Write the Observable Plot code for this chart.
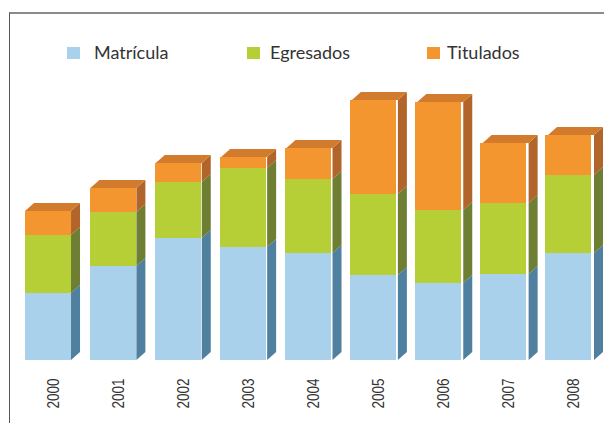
<!DOCTYPE html>
<html>
<head>
<meta charset="utf-8">
<script src="https://cdn.jsdelivr.net/npm/d3@7"></script>
<script src="https://cdn.jsdelivr.net/npm/@observablehq/plot@0.6"></script>
<style>
  html, body { margin: 0; padding: 0; background: #fff; }
  #wrap { position: relative; width: 604px; height: 423px; overflow: hidden; }
  #frame { position: absolute; left: 9px; top: 12px; width: 600px; height: 420px;
           border-top: 2px solid #8a8a8a; border-left: 1.5px solid #555; box-sizing: border-box; pointer-events: none; }
</style>
</head>
<body>
<div id="wrap"><div id="chart"></div><div id="frame"></div></div>
<script>
const years = ["2000", "2001", "2002", "2003", "2004", "2005", "2006", "2007", "2008"];
const matricula = [67, 94, 122, 113, 107, 85, 77, 86, 107];
const egresados = [58, 54, 56, 79, 74, 81, 73, 71, 78];
const titulados = [24, 24, 19, 11, 31, 94, 108, 60, 40];
const seriesNames = ["Matrícula", "Egresados", "Titulados"];
const frontColors = ["#a9d1ec", "#b6cf36", "#f4962f"];
const sideColors = ["#50809f", "#6e7f34", "#b2652a"];
const topColor = "#d27b2c";

const seriesValues = [matricula, egresados, titulados];
const rows = [];
years.forEach((yr, i) => {
  seriesNames.forEach((s, k) => rows.push({year: yr, serie: s, value: seriesValues[k][i]}));
});

const plot = Plot.plot({
  width: 604,
  height: 423,
  marginLeft: 25,
  marginRight: 10,
  marginTop: 60,
  marginBottom: 63,
  x: {domain: years, paddingInner: 0.296, paddingOuter: 0, align: 0, label: null},
  y: {domain: [0, 300], axis: null},
  color: {domain: seriesNames, range: frontColors},
  style: {background: "transparent", fontFamily: "'Liberation Sans', Arial, sans-serif"},
  marks: [
    Plot.barY(rows, {x: "year", y: "value", fill: "serie", order: seriesNames}),
    Plot.axisX({tickSize: 0, tickPadding: 18, dx: 5, tickRotate: -90, fill: "#333", label: null})
  ]
});

const xs = plot.scale("x");
const ys = plot.scale("y");
const xScale = d3.scaleBand().domain(xs.domain).range(xs.range).paddingInner(xs.paddingInner ?? 0.296).paddingOuter(xs.paddingOuter ?? 0).align(xs.align ?? 0);
const yScale = d3.scaleLinear().domain(ys.domain).range(ys.range);
const bw = xScale.bandwidth();
const DX = 9, DY = -8;

const svg = d3.select(plot);
svg.selectAll("text")
  .style("font-size", "16px")
  .style("font-family", "'Liberation Sans', Arial, sans-serif")
  .attr("textLength", 30)
  .attr("lengthAdjust", "spacingAndGlyphs");

const g3d = svg.append("g");
years.forEach((yr, i) => {
  const x0 = xScale(yr), x1 = x0 + bw;
  let acc = 0;
  seriesValues.forEach((vals, k) => {
    const yb = yScale(acc), yt = yScale(acc + vals[i]);
    acc += vals[i];
    g3d.append("polygon")
      .attr("points", [[x1, yt], [x1 + DX, yt + DY], [x1 + DX, yb + DY], [x1, yb]].join(" "))
      .attr("fill", sideColors[k]);
  });
  const yTop = yScale(acc);
  g3d.append("polygon")
    .attr("points", [[x0, yTop], [x0 + DX, yTop + DY], [x1 + DX, yTop + DY], [x1, yTop]].join(" "))
    .attr("fill", topColor);
});

// legend
const legendX = [67, 247, 427];
const legendTextX = [94, 270, 447];
const lg = svg.append("g").attr("text-anchor", "start");
seriesNames.forEach((s, k) => {
  lg.append("rect").attr("x", legendX[k]).attr("y", 47).attr("width", 13).attr("height", 12)
    .attr("fill", frontColors[k]);
  lg.append("text").attr("x", legendTextX[k]).attr("y", 59)
    .attr("text-anchor", "start")
    .style("font-family", "Lato, 'Open Sans', sans-serif").style("font-size", "18px")
    .attr("fill", "#333").text(s);
});

document.getElementById("chart").appendChild(plot);
</script>
</body>
</html>
